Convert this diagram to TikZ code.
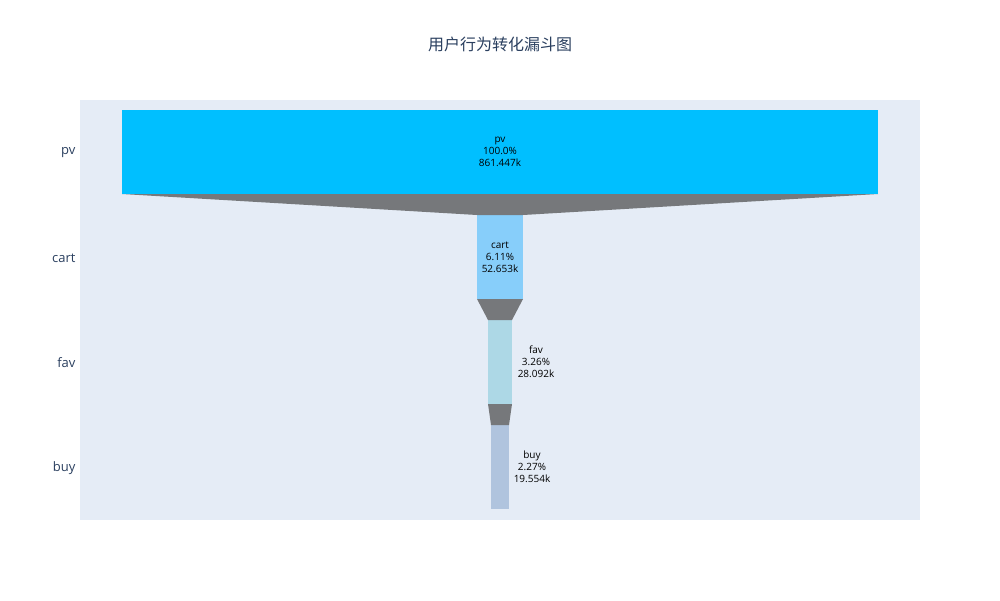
\documentclass[tikz,border=0pt]{standalone}
\usepackage{fontspec}
\setmainfont{Open Sans}
\newfontfamily\cjk{Noto Sans CJK SC}
\definecolor{axc}{HTML}{2A3F5F}
\definecolor{bgc}{HTML}{E5ECF6}
\definecolor{conc}{HTML}{76787B}
\definecolor{c1}{HTML}{00BFFF}
\definecolor{c2}{HTML}{87CEFA}
\definecolor{c3}{HTML}{ADD8E6}
\definecolor{c4}{HTML}{B0C4DE}
\begin{document}
\begin{tikzpicture}[x=1pt,y=-1pt,
  bar/.style={inner sep=0pt,outer sep=0pt,anchor=north west},
  lbl/.style={font=\fontsize{10}{12}\selectfont,align=center,text=black},
  ax/.style={font=\fontsize{13}{15}\selectfont,text=axc,anchor=east},
  conn/.style={fill=conc,draw=none}]
\useasboundingbox (0,0) rectangle (1000,600);
\fill[white] (0,0) rectangle (1000,600);
\fill[bgc] (80,100) rectangle (920,520);
\node[font=\cjk\fontsize{16}{18}\selectfont,text=axc] (title) at (500,44) {用户行为转化漏斗图};
\node[bar,fill=c1,minimum width=756,minimum height=84] (pv) at (122,110) {};
\node[bar,fill=c2,minimum width=46,minimum height=84] (cart) at (477,215) {};
\node[bar,fill=c3,minimum width=24,minimum height=84] (fav) at (488,320) {};
\node[bar,fill=c4,minimum width=18,minimum height=84] (buy) at (491,425) {};
\fill[conn] (pv.south west) -- (pv.south east) -- (cart.north east) -- (cart.north west) -- cycle;
\fill[conn] (cart.south west) -- (cart.south east) -- (fav.north east) -- (fav.north west) -- cycle;
\fill[conn] (fav.south west) -- (fav.south east) -- (buy.north east) -- (buy.north west) -- cycle;
\node[lbl] (tpv) at (pv.center) {pv\\100.0\%\\861.447k};
\node[lbl] (tcart) at (cart.center) {cart\\6.11\%\\52.653k};
\node[lbl] (tfav) at (536,362) {fav\\3.26\%\\28.092k};
\node[lbl] (tbuy) at (532,467) {buy\\2.27\%\\19.554k};
\node[ax] (apv) at (79,153) {pv};
\node[ax] (acart) at (79,258) {cart};
\node[ax] (afav) at (79,363) {fav};
\node[ax] (abuy) at (79,468) {buy};
\end{tikzpicture}
\end{document}
